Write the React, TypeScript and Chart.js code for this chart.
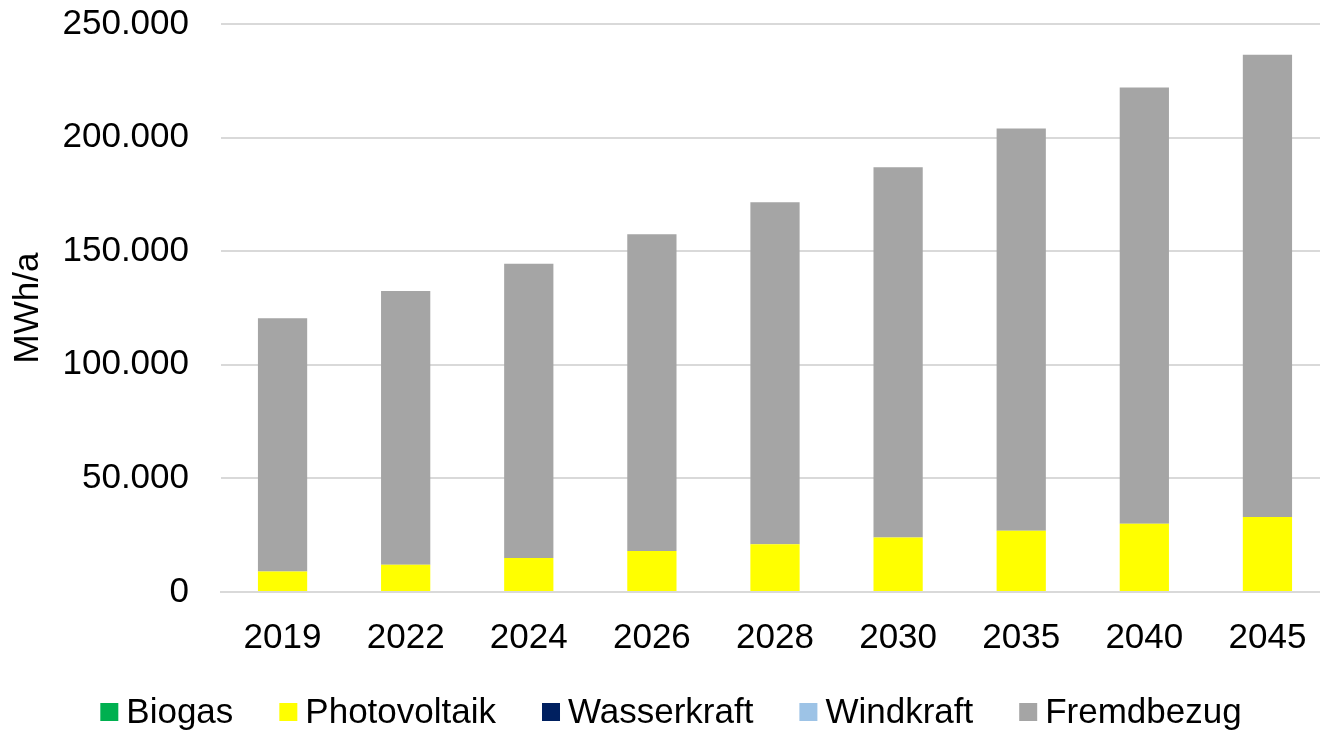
import React, { useEffect, useRef } from "react";
import { Chart, registerables } from "chart.js";

Chart.register(...registerables);

const categories = ["2019", "2022", "2024", "2026", "2028", "2030", "2035", "2040", "2045"];
const biogas = [0, 0, 0, 0, 0, 0, 0, 0, 0];
const photovoltaik = [9000, 12000, 15000, 18000, 21000, 24000, 27000, 30000, 33000];
const wasserkraft = [0, 0, 0, 0, 0, 0, 0, 0, 0];
const windkraft = [0, 0, 0, 0, 0, 0, 0, 0, 0];
const fremdbezug = [111500, 120500, 129500, 139500, 150500, 163000, 177000, 192000, 203500];
const yTitle = "MWh/a";

const FONT = "'Liberation Sans', Arial, sans-serif";

const fmt = (v: number) => String(Math.round(v)).replace(/\B(?=(\d{3})+(?!\d))/g, ".");

const legendPlugin = {
  id: "customLegend",
  afterDraw(chart: any) {
    const ctx = chart.ctx;
    const size = 35;
    const box = 18;
    const gapBoxText = 8;
    const itemGap = 46;
    ctx.save();
    ctx.font = `${size}px ${FONT}`;
    const items = chart.data.datasets.map((ds: any) => ({
      label: ds.label,
      color: ds.backgroundColor,
      w: ctx.measureText(ds.label).width,
    }));
    const total =
      items.reduce((s: number, it: any) => s + box + gapBoxText + it.w, 0) + itemGap * (items.length - 1);
    let x = chart.width / 2 + 6 - total / 2;
    const cy = 712;
    ctx.textBaseline = "middle";
    ctx.textAlign = "left";
    for (const it of items) {
      ctx.fillStyle = it.color;
      ctx.fillRect(x, cy - box / 2, box, box);
      x += box + gapBoxText;
      ctx.fillStyle = "#000";
      ctx.fillText(it.label, x, cy + 1);
      x += it.w + itemGap;
    }
    ctx.restore();
  },
};

export default function App() {
  const ref = useRef<HTMLCanvasElement>(null);
  useEffect(() => {
    const canvas = ref.current!;
    const chart = new Chart(canvas, {
      type: "bar",
      data: {
        labels: categories,
        datasets: [
          { label: "Biogas", data: biogas, backgroundColor: "#00B050" },
          { label: "Photovoltaik", data: photovoltaik, backgroundColor: "#FFFF00" },
          { label: "Wasserkraft", data: wasserkraft, backgroundColor: "#002060" },
          { label: "Windkraft", data: windkraft, backgroundColor: "#9DC3E6" },
          { label: "Fremdbezug", data: fremdbezug, backgroundColor: "#A5A5A5" },
        ],
      },
      options: {
        responsive: false,
        animation: false,
        devicePixelRatio: 1,
        layout: { padding: { left: 0, right: 1, top: 24, bottom: 77 } },
        datasets: { bar: { barPercentage: 0.4, categoryPercentage: 1 } },
        plugins: {
          legend: { display: false },
          tooltip: { enabled: false },
        },
        scales: {
          x: {
            stacked: true,
            grid: { display: false, drawTicks: false },
            border: { display: true, color: "#D9D9D9", width: 2 },
            ticks: { color: "#000", font: { family: FONT, size: 35 }, padding: 25, maxRotation: 0 },
            afterFit: (s: any) => {
              s.height = 62;
              s.paddingLeft = 0;
              s.paddingRight = 0;
            },
          },
          y: {
            stacked: true,
            min: 0,
            max: 250000,
            grid: { color: "#D9D9D9", lineWidth: 2, drawTicks: false },
            border: { display: false },
            ticks: {
              stepSize: 50000,
              color: "#000",
              font: { family: FONT, size: 35 },
              padding: 32,
              callback: (v: any) => fmt(Number(v)),
            },
            title: {
              display: true,
              text: yTitle,
              color: "#000",
              font: { family: FONT, size: 35 },
              padding: { top: 7, bottom: 13 },
            },
            afterFit: (s: any) => {
              s.width = 221;
              s.paddingTop = 0;
              s.paddingBottom = 0;
            },
          },
        },
      },
      plugins: [legendPlugin],
    });
    return () => chart.destroy();
  }, []);
  return (
    <div style={{ position: "absolute", left: 0, top: 0, width: 1320, height: 731, overflow: "hidden", background: "#fff" }}>
      <canvas ref={ref} width={1330} height={731} style={{ width: 1330, height: 731, display: "block" }} />
    </div>
  );
}
